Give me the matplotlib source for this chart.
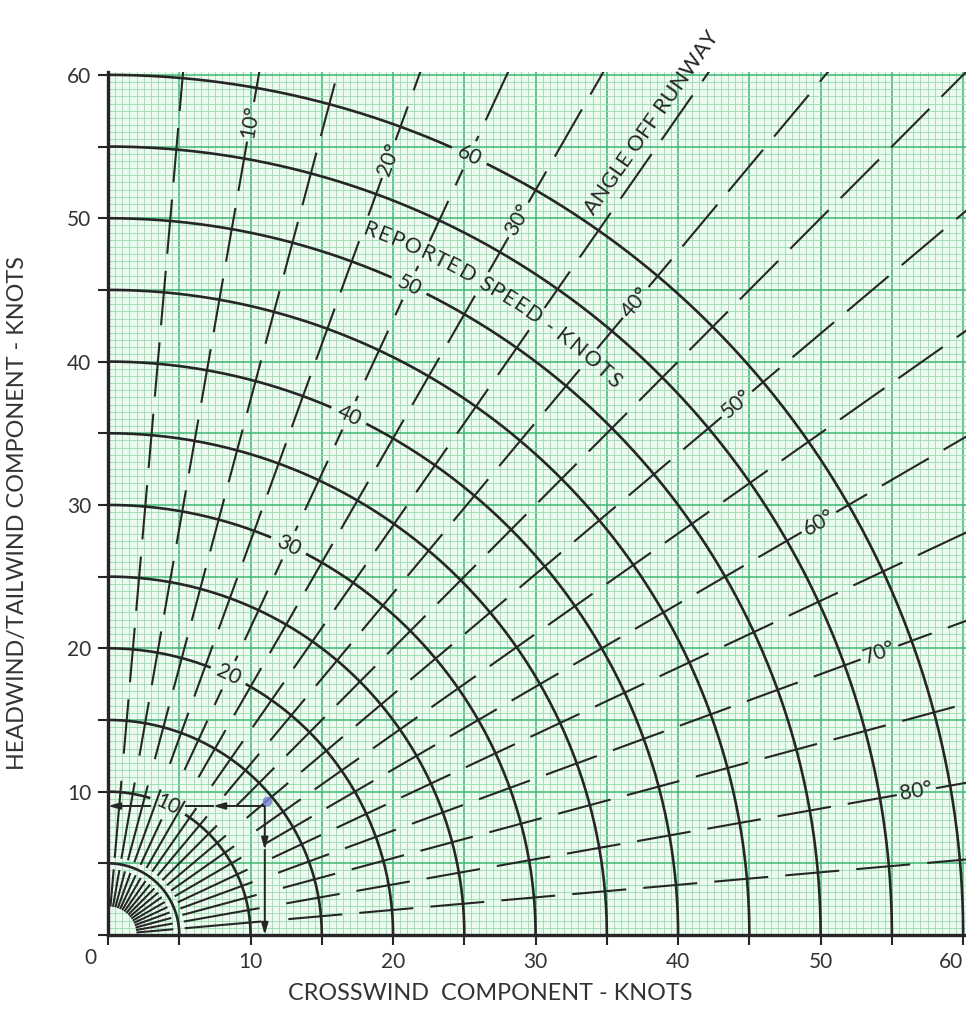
import numpy as np
import matplotlib
matplotlib.use("Agg")
import matplotlib.pyplot as plt
from matplotlib.collections import LineCollection

# Reported wind speeds drawn as arcs (knots) and the ones carrying a number
speed_arcs = [5, 10, 15, 20, 25, 30, 35, 40, 45, 50, 55, 60]
speed_labels = [10, 20, 30, 40, 50, 60]
# Angles off runway drawn as dashed rays (degrees) and the labelled ones
angle_rays = [5, 10, 15, 20, 25, 30, 35, 40, 45, 50, 55, 60, 65, 70, 75, 80, 85]
angle_labels = [10, 20, 30, 40, 50, 60, 70, 80]
# Axis ticks (knots)
tick_labels = [0, 10, 20, 30, 40, 50, 60]
tick_marks = [0, 5, 10, 15, 20, 25, 30, 35, 40, 45, 50, 55, 60]
# Worked example: crosswind / headwind components of a reported wind
example_crosswind = 11
example_headwind = 9

FONT = ["Lato", "DejaVu Sans"]
INK = "#262626"
PAPER = "#eefaf0"
FINE = "#97dcb0"
MAJOR = "#3fb873"

W, H = 966, 1014
fig = plt.figure(figsize=(W / 100, H / 100), dpi=100)
fig.patch.set_facecolor("white")
ax = fig.add_axes([108 / W, 79 / H, 858 / W, 863 / H])
ax.set_xlim(0, 60.2)
ax.set_ylim(0, 60.2)
ax.set_facecolor(PAPER)

# graph-paper grid
ax.set_xticks(tick_marks)
ax.set_yticks(tick_marks)
ax.set_xticks(np.arange(0, 60.5, 0.5), minor=True)
ax.set_yticks(np.arange(0, 60.5, 0.5), minor=True)
ax.grid(which="minor", color=FINE, lw=0.6)
ax.grid(which="major", color=MAJOR, lw=1.1)
ax.set_axisbelow(True)
ax.tick_params(which="minor", length=0)
ax.tick_params(which="major", length=7, width=1.5, color=INK, direction="out",
               labelsize=15, labelcolor="#333333", pad=5)
lab = [str(v) if (v in tick_labels and v != 0) else "" for v in tick_marks]
ax.set_xticklabels(lab, family=FONT)
ax.set_yticklabels(lab, family=FONT)
ax.get_xticklabels()[-1].set_horizontalalignment("right")
for s in ("top", "right"):
    ax.spines[s].set_visible(False)
for s in ("left", "bottom"):
    ax.spines[s].set_linewidth(2.4)
    ax.spines[s].set_color(INK)
ax.text(-1.2, -0.9, "0", ha="center", va="top", fontsize=15, color="#333333",
        family=FONT, clip_on=False)


def pol(r, a):
    t = np.radians(a)
    return r * np.sin(t), r * np.cos(t)


def cut(segs, lo, hi):
    out = []
    for s, e in segs:
        if e <= lo or s >= hi:
            out.append((s, e))
        else:
            if s < lo:
                out.append((s, lo))
            if e > hi:
                out.append((hi, e))
    return out


LABEL_ANG = 25.0      # where speed numbers sit on their arcs
ANG_LABEL_R = 57.6    # where angle numbers sit on their rays
CURVE_R = 52.5        # radius of the curved caption
CURVE_SPAN = (20.0, 43.0)

# speed arcs, opened where a number sits on them
for r in speed_arcs:
    pieces = [(0.0, 90.0)]
    if r in speed_labels:
        half = np.degrees(1.35 / r)
        pieces = cut(pieces, LABEL_ANG - half, LABEL_ANG + half)
    for a0, a1 in pieces:
        a = np.linspace(a0, a1, 200)
        x, y = pol(r, a)
        ax.plot(x, y, color=INK, lw=1.9, solid_capstyle="butt", zorder=3)
    if r in speed_labels:
        x, y = pol(r, LABEL_ANG)
        ax.text(x, y, str(r), rotation=-LABEL_ANG, rotation_mode="anchor",
                ha="center", va="center", fontsize=15, color=INK, family=FONT,
                zorder=5)

# dashed rays for the angle off runway
segs = []
for a in angle_rays:
    runs = [(2.0, 4.6), (5.4, 10.8)] + [(5 * k - 2.3, 5 * k + 1.5) for k in range(3, 18)]
    if a in angle_labels:
        runs = cut(runs, ANG_LABEL_R - 1.4, ANG_LABEL_R + 1.4)
    if a == LABEL_ANG:
        for r in speed_labels:
            runs = cut(runs, r - 1.1, r + 1.1)
    if CURVE_SPAN[0] - 2 <= a <= CURVE_SPAN[1] + 1:
        runs = cut(runs, CURVE_R - 0.8, CURVE_R + 0.9)
    for s, e in runs:
        segs.append([pol(s, a), pol(e, a)])
ax.add_collection(LineCollection(segs, colors=INK, linewidths=1.5,
                                 capstyle="butt", zorder=3))

for a in angle_labels:
    x, y = pol(ANG_LABEL_R, a)
    ax.text(x, y, f"{a}°", rotation=90 - a, rotation_mode="anchor",
            ha="center", va="center", fontsize=15, color=INK, family=FONT, zorder=5)

# caption running beside the 35 degree ray
x, y = pol(68.3, 34.0)
ax.text(x, y, "ANGLE OFF RUNWAY", rotation=55, rotation_mode="anchor",
        ha="center", va="center", fontsize=15.5, color=INK, family=FONT,
        clip_on=False, zorder=5)

# curved caption following the speed arcs
caption = "REPORTED SPEED - KNOTS"
renderer = fig.canvas.get_renderer()
px_per_unit = 858 / 60.2
CAP_SIZE = 15.5


def char_w(ch):
    if ch == " ":
        t1 = ax.text(0, 0, "A A", fontsize=CAP_SIZE, family=FONT)
        t2 = ax.text(0, 0, "AA", fontsize=CAP_SIZE, family=FONT)
        w = t1.get_window_extent(renderer).width - t2.get_window_extent(renderer).width
        t1.remove(); t2.remove()
        return w
    t = ax.text(0, 0, ch, fontsize=CAP_SIZE, family=FONT)
    w = t.get_window_extent(renderer).width
    t.remove()
    return w


widths = np.array([char_w(c) / px_per_unit for c in caption])
span = np.radians(CURVE_SPAN[1] - CURVE_SPAN[0]) * CURVE_R
widths *= span / widths.sum()
pos = CURVE_SPAN[0]
for ch, w in zip(caption, widths):
    da = np.degrees(w / CURVE_R)
    mid = pos + da / 2
    if ch != " ":
        x, y = pol(CURVE_R, mid)
        ax.text(x, y, ch, rotation=-mid, rotation_mode="anchor", ha="center",
                va="center", fontsize=CAP_SIZE, color=INK, family=FONT, zorder=5)
    pos += da

# worked example arrows
cx, hy = example_crosswind, example_headwind
arrow = dict(arrowstyle="-|>,head_length=0.7,head_width=0.2", color=INK, lw=1.4,
             shrinkA=0, shrinkB=0)
ax.annotate("", xy=(cx * 0.67, hy), xytext=(cx, hy), arrowprops=arrow, zorder=4)
ax.plot([cx * 0.67, cx * 0.5], [hy, hy], color=INK, lw=1.4, zorder=4)
ax.annotate("", xy=(0, hy), xytext=(cx * 0.27, hy), arrowprops=arrow, zorder=4)
ax.annotate("", xy=(cx, hy * 0.66), xytext=(cx, hy), arrowprops=arrow, zorder=4)
ax.annotate("", xy=(cx, 0), xytext=(cx, hy * 0.66), arrowprops=arrow, zorder=4)
ax.plot([cx + 0.15], [hy + 0.35], "o", ms=6, color="#7b83d6", alpha=0.8, zorder=4)

fig.text(490 / W, 1 - 993 / H, "CROSSWIND  COMPONENT - KNOTS", ha="center",
         va="center", fontsize=16.8, color="#333333", family=FONT)
fig.text(18 / W, 1 - 513 / H, "HEADWIND/TAILWIND COMPONENT - KNOTS", ha="center",
         va="center", rotation=90, fontsize=16.8, color="#333333", family=FONT)

fig.savefig("out.png", dpi=100, facecolor="white")
